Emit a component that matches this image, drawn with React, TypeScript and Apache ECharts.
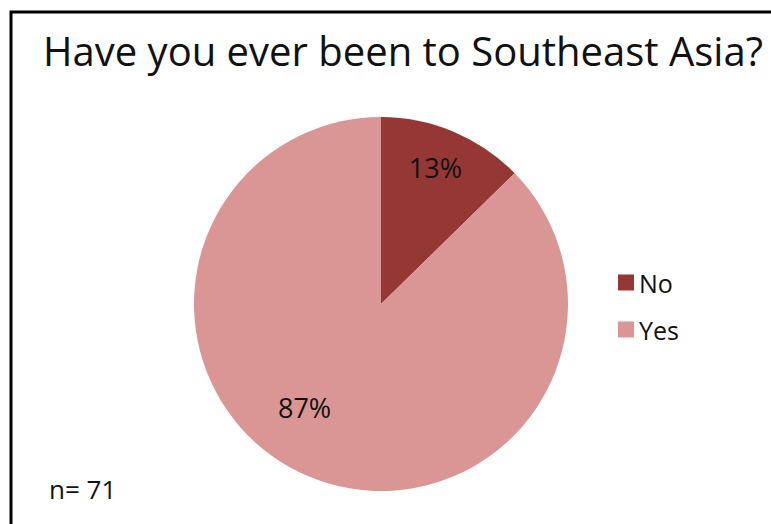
import React, { useEffect, useRef } from "react";
import * as echarts from "echarts";

const title = "Have you ever been to Southeast Asia?";
const categories = ["No", "Yes"];
const counts = [9, 62];
const colors = ["#953735", "#D99694"];
const note = "n= 71";
const labelOffsets = [
  [17, -48],
  [-39, 15],
];

export default function App() {
  const ref = useRef<HTMLDivElement>(null);
  useEffect(() => {
    if (!ref.current) return;
    const chart = echarts.init(ref.current, null, { renderer: "svg" });
    const font = "'Open Sans', 'Liberation Sans', sans-serif";
    chart.setOption({
      animation: false,
      backgroundColor: "#ffffff",
      title: {
        text: title,
        left: 398,
        top: 25,
        textAlign: "center",
        textStyle: { fontFamily: font, fontSize: 40, fontWeight: "normal", color: "#111" },
      },
      legend: {
        orient: "vertical",
        left: 613,
        top: 265,
        itemWidth: 16,
        itemHeight: 16,
        itemGap: 22,
        icon: "rect",
        data: categories,
        textStyle: { fontFamily: font, fontSize: 25, color: "#111" },
      },
      graphic: [
        {
          type: "rect",
          shape: { x: 11, y: 12, width: 800, height: 600 },
          style: { fill: "none", stroke: "#000", lineWidth: 3 },
          silent: true,
        },
        {
          type: "text",
          left: 49,
          top: 476,
          style: { text: note, fontFamily: font, fontSize: 26, fill: "#111" },
        },
      ],
      series: [
        {
          type: "pie",
          center: [381, 304],
          radius: 187,
          startAngle: 90,
          clockwise: true,
          data: categories.map((c, i) => ({
            name: c,
            value: counts[i],
            itemStyle: { color: colors[i] },
          })),
          label: {
            show: true,
            position: "inside",
            formatter: "{d}%",
            fontFamily: font,
            fontSize: 27,
            color: "#111",
          },
          labelLine: { show: false },
          labelLayout: (p: any) => ({ dx: labelOffsets[p.dataIndex][0], dy: labelOffsets[p.dataIndex][1] }),
          percentPrecision: 0,
          emphasis: { disabled: true },
        },
      ],
    });
    return () => chart.dispose();
  }, []);
  return (
    <div
      ref={ref}
      style={{ position: "fixed", left: 0, top: 0, width: 771, height: 524 }}
    />
  );
}
